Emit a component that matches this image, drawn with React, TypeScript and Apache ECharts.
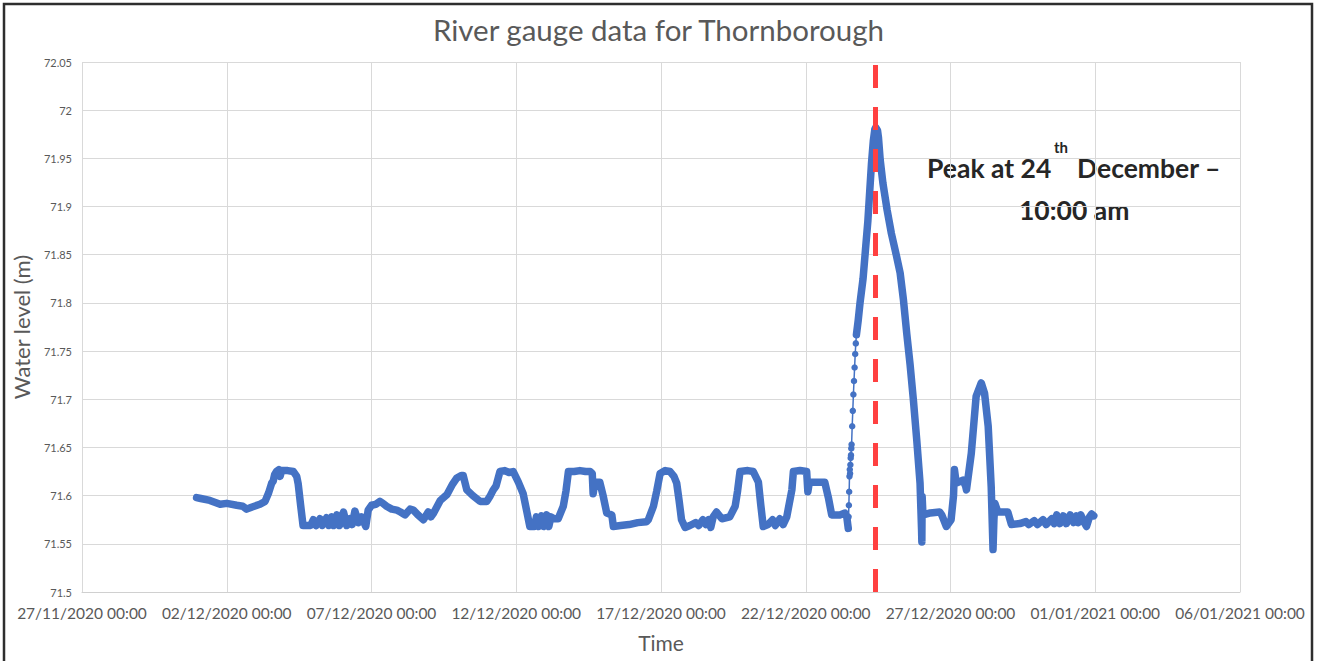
import React, { useEffect, useRef } from "react";
import * as echarts from "echarts";

const TITLE = "River gauge data for Thornborough";
const X_NAME = "Time";
const Y_NAME = "Water level (m)";
const AXIS_START = "2020-11-27 00:00";
const AXIS_END = "2021-01-06 00:00";
const TICK_DAYS = 5;
const PEAK_TIME = "2020-12-24 10:00";
const Y_MIN = 71.5;
const Y_MAX = 72.05;
const Y_STEP = 0.05;

// readings before the flood rise
const preTimes = [
  "2020-11-30 23:00", "2020-12-01 02:30", "2020-12-01 10:00", "2020-12-01 18:30", "2020-12-02 00:00",
  "2020-12-02 08:15", "2020-12-02 13:15", "2020-12-02 16:30", "2020-12-02 20:30", "2020-12-03 03:30",
  "2020-12-03 07:45", "2020-12-03 10:45", "2020-12-03 13:15", "2020-12-03 14:30", "2020-12-03 15:45",
  "2020-12-03 17:15", "2020-12-03 19:15", "2020-12-03 20:15", "2020-12-03 21:30", "2020-12-04 02:30",
  "2020-12-04 07:15", "2020-12-04 10:00", "2020-12-04 11:15", "2020-12-04 13:15", "2020-12-04 15:15",
  "2020-12-04 21:30", "2020-12-04 23:45", "2020-12-05 02:00", "2020-12-05 05:15", "2020-12-05 07:15",
  "2020-12-05 10:45", "2020-12-05 12:45", "2020-12-05 15:00", "2020-12-05 16:45", "2020-12-05 19:15",
  "2020-12-05 21:30", "2020-12-06 00:45", "2020-12-06 03:30", "2020-12-06 06:15", "2020-12-06 08:00",
  "2020-12-06 10:15", "2020-12-06 13:15", "2020-12-06 15:45", "2020-12-06 19:15", "2020-12-06 21:15",
  "2020-12-07 00:00", "2020-12-07 03:30", "2020-12-07 07:00", "2020-12-07 09:30", "2020-12-07 12:30",
  "2020-12-07 16:45", "2020-12-07 21:00", "2020-12-08 00:00", "2020-12-08 03:45", "2020-12-08 08:00",
  "2020-12-08 10:45", "2020-12-08 14:30", "2020-12-08 19:00", "2020-12-08 21:30", "2020-12-08 23:00",
  "2020-12-09 01:15", "2020-12-09 03:30", "2020-12-09 09:00", "2020-12-09 14:30", "2020-12-09 19:15",
  "2020-12-09 22:30", "2020-12-10 02:30", "2020-12-10 04:00", "2020-12-10 07:00", "2020-12-10 12:00",
  "2020-12-10 18:00", "2020-12-10 23:30", "2020-12-11 02:30", "2020-12-11 05:00", "2020-12-11 07:15",
  "2020-12-11 10:30", "2020-12-11 14:30", "2020-12-11 18:00", "2020-12-11 21:30", "2020-12-12 01:45",
  "2020-12-12 05:45", "2020-12-12 08:30", "2020-12-12 11:15", "2020-12-12 15:00", "2020-12-12 16:45",
  "2020-12-12 18:45", "2020-12-12 21:00", "2020-12-12 23:00", "2020-12-13 01:15", "2020-12-13 03:00",
  "2020-12-13 04:45", "2020-12-13 07:15", "2020-12-13 10:45", "2020-12-13 15:00", "2020-12-13 17:15",
  "2020-12-13 19:15", "2020-12-14 00:00", "2020-12-14 04:45", "2020-12-14 09:30", "2020-12-14 13:15",
  "2020-12-14 15:00", "2020-12-14 15:45", "2020-12-14 17:15", "2020-12-14 21:15", "2020-12-15 00:00",
  "2020-12-15 03:00", "2020-12-15 07:15", "2020-12-15 08:30", "2020-12-15 14:30", "2020-12-15 21:30",
  "2020-12-16 04:45", "2020-12-16 12:00", "2020-12-16 13:30", "2020-12-16 17:45", "2020-12-16 20:30",
  "2020-12-16 23:15", "2020-12-17 03:30", "2020-12-17 07:30", "2020-12-17 10:45", "2020-12-17 13:00",
  "2020-12-17 15:00", "2020-12-17 17:00", "2020-12-17 20:00", "2020-12-18 00:00", "2020-12-18 04:45",
  "2020-12-18 07:15", "2020-12-18 10:45", "2020-12-18 13:15", "2020-12-18 15:30", "2020-12-18 17:15",
  "2020-12-18 19:15", "2020-12-18 22:00", "2020-12-19 02:30", "2020-12-19 09:00", "2020-12-19 13:30",
  "2020-12-19 15:30", "2020-12-19 17:30", "2020-12-20 00:00", "2020-12-20 04:30", "2020-12-20 08:45",
  "2020-12-20 10:45", "2020-12-20 12:45", "2020-12-20 16:45", "2020-12-20 20:30", "2020-12-20 22:45",
  "2020-12-21 02:30", "2020-12-21 05:15", "2020-12-21 08:15", "2020-12-21 12:30", "2020-12-21 13:45",
  "2020-12-21 19:15", "2020-12-22 00:45", "2020-12-22 01:45", "2020-12-22 03:00", "2020-12-22 09:30",
  "2020-12-22 15:45", "2020-12-22 18:45", "2020-12-22 21:30", "2020-12-23 04:15", "2020-12-23 08:30",
  "2020-12-23 10:00", "2020-12-23 11:15",
];
const preLevels = [
  71.598, 71.597, 71.595, 71.591, 71.592,
  71.590, 71.589, 71.586, 71.588, 71.591,
  71.594, 71.603, 71.613, 71.615, 71.622,
  71.625, 71.627, 71.620, 71.626, 71.626,
  71.625, 71.620, 71.612, 71.590, 71.569,
  71.569, 71.575, 71.569, 71.576, 71.569,
  71.577, 71.569, 71.578, 71.569, 71.580,
  71.569, 71.583, 71.569, 71.576, 71.570,
  71.584, 71.572, 71.578, 71.568, 71.585,
  71.590, 71.591, 71.594, 71.592, 71.589,
  71.586, 71.585, 71.583, 71.580, 71.586,
  71.585, 71.580, 71.575, 71.580, 71.583,
  71.578, 71.582, 71.595, 71.601, 71.612,
  71.618, 71.621, 71.621, 71.606, 71.600,
  71.594, 71.594, 71.600, 71.606, 71.610,
  71.625, 71.626, 71.624, 71.625, 71.614,
  71.602, 71.585, 71.568, 71.568, 71.578,
  71.568, 71.579, 71.568, 71.580, 71.568,
  71.578, 71.576, 71.576, 71.589, 71.605,
  71.625, 71.625, 71.626, 71.625, 71.625,
  71.623, 71.602, 71.614, 71.614, 71.600,
  71.582, 71.580, 71.568, 71.569, 71.570,
  71.572, 71.573, 71.575, 71.589, 71.605,
  71.623, 71.626, 71.625, 71.620, 71.613,
  71.595, 71.575, 71.567, 71.569, 71.572,
  71.569, 71.575, 71.570, 71.575, 71.567,
  71.578, 71.583, 71.576, 71.578, 71.589,
  71.605, 71.625, 71.626, 71.625, 71.614,
  71.590, 71.568, 71.570, 71.575, 71.569,
  71.576, 71.570, 71.578, 71.606, 71.625,
  71.626, 71.625, 71.604, 71.614, 71.614,
  71.614, 71.598, 71.580, 71.580, 71.582,
  71.578, 71.566,
];

// sparse readings on the steep rise, 23 December
const riseTimes = [
  "2020-12-23 11:15", "2020-12-23 11:30", "2020-12-23 11:45", "2020-12-23 12:00", "2020-12-23 12:15",
  "2020-12-23 12:30", "2020-12-23 12:45", "2020-12-23 13:00", "2020-12-23 13:15", "2020-12-23 13:30",
  "2020-12-23 13:45", "2020-12-23 14:00", "2020-12-23 14:30", "2020-12-23 15:00", "2020-12-23 15:30",
  "2020-12-23 16:00", "2020-12-23 16:30", "2020-12-23 17:00", "2020-12-23 17:30", "2020-12-23 18:00",
];
const riseLevels = [
  71.566, 71.578, 71.590, 71.604, 71.620,
  71.627, 71.623, 71.632, 71.639, 71.642,
  71.649, 71.653, 71.672, 71.688, 71.705,
  71.719, 71.733, 71.747, 71.758, 71.767,
];

// readings from the late rise to the end of the year
const postTimes = [
  "2020-12-23 18:00", "2020-12-23 19:30", "2020-12-23 21:00", "2020-12-23 23:30", "2020-12-24 01:30",
  "2020-12-24 03:30", "2020-12-24 05:00", "2020-12-24 06:30", "2020-12-24 08:00", "2020-12-24 09:15",
  "2020-12-24 10:00", "2020-12-24 11:30", "2020-12-24 12:15", "2020-12-24 13:45", "2020-12-24 16:00",
  "2020-12-24 19:30", "2020-12-24 23:00", "2020-12-25 03:00", "2020-12-25 06:15", "2020-12-25 09:00",
  "2020-12-25 11:45", "2020-12-25 14:30", "2020-12-25 17:15", "2020-12-25 20:00", "2020-12-25 22:45",
  "2020-12-26 00:00", "2020-12-26 00:15", "2020-12-26 00:30", "2020-12-26 01:00", "2020-12-26 01:30",
  "2020-12-26 07:15", "2020-12-26 15:00", "2020-12-26 16:45", "2020-12-26 20:30", "2020-12-27 00:30",
  "2020-12-27 02:30", "2020-12-27 03:15", "2020-12-27 04:45", "2020-12-27 10:15", "2020-12-27 12:30",
  "2020-12-27 13:15", "2020-12-27 17:15", "2020-12-27 21:15", "2020-12-28 01:30", "2020-12-28 04:15",
  "2020-12-28 07:15", "2020-12-28 09:45", "2020-12-28 11:15", "2020-12-28 12:00", "2020-12-28 12:45",
  "2020-12-28 15:15", "2020-12-28 23:30", "2020-12-29 02:30", "2020-12-29 09:30", "2020-12-29 14:30",
  "2020-12-29 16:45", "2020-12-29 21:30", "2020-12-30 00:00", "2020-12-30 04:45", "2020-12-30 07:15",
  "2020-12-30 12:00", "2020-12-30 14:00", "2020-12-30 16:00", "2020-12-30 18:45", "2020-12-30 21:30",
  "2020-12-31 00:00", "2020-12-31 03:15", "2020-12-31 06:00", "2020-12-31 08:30", "2020-12-31 10:00",
  "2020-12-31 12:00", "2020-12-31 15:00", "2020-12-31 16:45", "2020-12-31 19:15", "2020-12-31 21:00",
  "2020-12-31 22:45",
];
const postLevels = [
  71.767, 71.782, 71.800, 71.825, 71.855,
  71.885, 71.915, 71.945, 71.968, 71.980,
  71.982, 71.979, 71.972, 71.948, 71.924,
  71.896, 71.872, 71.850, 71.831, 71.803,
  71.768, 71.736, 71.699, 71.658, 71.613,
  71.565, 71.552, 71.599, 71.585, 71.580,
  71.582, 71.583, 71.580, 71.568, 71.575,
  71.600, 71.627, 71.613, 71.616, 71.610,
  71.606, 71.644, 71.703, 71.717, 71.706,
  71.672, 71.609, 71.544, 71.575, 71.592,
  71.583, 71.583, 71.570, 71.571, 71.573,
  71.570, 71.574, 71.570, 71.575, 71.570,
  71.576, 71.571, 71.580, 71.571, 71.579,
  71.571, 71.580, 71.572, 71.579, 71.572,
  71.580, 71.572, 71.568, 71.578, 71.581,
  71.579,
];

const DAY = 86400000;
const parseT = (s: string) => {
  const [d, t] = s.split(" ");
  const [Y, M, D] = d.split("-").map(Number);
  const [h, m] = t.split(":").map(Number);
  return Date.UTC(Y, M - 1, D, h, m);
};
const BASE = parseT(AXIS_START);
const off = (s: string) => parseT(s) - BASE;
const pad = (n: number) => (n < 10 ? "0" + n : "" + n);
const fmt = (v: number) => {
  const dt = new Date(BASE + v);
  return `${pad(dt.getUTCDate())}/${pad(dt.getUTCMonth() + 1)}/${dt.getUTCFullYear()} ${pad(dt.getUTCHours())}:${pad(dt.getUTCMinutes())}`;
};
const pairs = (ts: string[], vs: number[]) => ts.map((t, i) => [off(t), vs[i]]);

const BLUE = "#4472C4";
const FONT = "Lato, 'Open Sans', sans-serif";

export default function App() {
  const ref = useRef<HTMLDivElement>(null);
  useEffect(() => {
    document.body.style.margin = "0";
    const chart = echarts.init(ref.current!, null, { renderer: "svg" });
    const band = {
      type: "line",
      showSymbol: false,
      symbol: "none",
      lineStyle: { color: BLUE, width: 7.5, cap: "round", join: "round" },
      itemStyle: { color: BLUE },
      silent: true,
      z: 3,
    };
    chart.setOption({
      animation: false,
      backgroundColor: "#ffffff",
      textStyle: { fontFamily: FONT },
      title: {
        text: TITLE,
        left: "center",
        top: 9,
        textStyle: { fontFamily: FONT, fontSize: 29.5, fontWeight: "normal", color: "#595959" },
      },
      grid: { left: 82, right: 77, top: 62, bottom: 69, containLabel: false },
      xAxis: {
        type: "value",
        min: 0,
        max: off(AXIS_END),
        interval: TICK_DAYS * DAY,
        name: X_NAME,
        nameLocation: "middle",
        nameGap: 40,
        nameTextStyle: { fontFamily: FONT, fontSize: 21, color: "#595959" },
        axisLine: { show: true, lineStyle: { color: "#d0d0d0", width: 1 } },
        axisTick: { show: false },
        axisLabel: { formatter: (v: number) => fmt(v), fontFamily: FONT, fontSize: 15.5, color: "#595959", margin: 13 },
        splitLine: { show: true, lineStyle: { color: "#d9d9d9", width: 1 } },
      },
      yAxis: {
        type: "value",
        min: Y_MIN,
        max: Y_MAX,
        interval: Y_STEP,
        name: Y_NAME,
        nameLocation: "middle",
        nameGap: 28,
        nameTextStyle: { fontFamily: FONT, fontSize: 22, color: "#595959" },
        axisLine: { show: false },
        axisTick: { show: false },
        axisLabel: {
          fontFamily: FONT,
          fontSize: 11,
          color: "#595959",
          margin: 10,
          formatter: (v: number) => String(Math.round(v * 100) / 100),
        },
        splitLine: { show: true, lineStyle: { color: "#d9d9d9", width: 1 } },
      },
      series: [
        { ...band, name: "pre", data: pairs(preTimes, preLevels) },
        {
          type: "line",
          name: "rise",
          data: pairs(riseTimes, riseLevels),
          showSymbol: true,
          symbol: "circle",
          symbolSize: 6.5,
          lineStyle: { color: BLUE, width: 1.5 },
          itemStyle: { color: BLUE, borderWidth: 0 },
          silent: true,
          z: 3,
        },
        {
          ...band,
          name: "post",
          data: pairs(postTimes, postLevels),
          markLine: {
            silent: true,
            symbol: ["none", "none"],
            label: { show: false },
            lineStyle: { color: "#FF4040", width: 5, type: [23, 19] },
            data: [{ xAxis: off(PEAK_TIME) }],
            z: 5,
          },
        },
      ],
      graphic: [
        {
          type: "rect",
          shape: { x: 4, y: 4, width: 1308, height: 680 },
          style: { fill: "none", stroke: "#2e2e2e", lineWidth: 2.5 },
          silent: true,
        },
        {
          type: "text",
          left: 927,
          top: 154,
          style: { text: "Peak at 24", font: `bold 26.5px ${FONT}`, fill: "#262626" },
        },
        {
          type: "text",
          left: 1054,
          top: 139,
          style: { text: "th", font: `bold 15px ${FONT}`, fill: "#262626" },
        },
        {
          type: "text",
          left: 1077,
          top: 154,
          style: { text: "December –", font: `bold 26.5px ${FONT}`, fill: "#262626" },
        },
        {
          type: "text",
          left: 1019,
          top: 196,
          style: { text: "10:00 am", font: `bold 26.5px ${FONT}`, fill: "#262626" },
        },
      ],
    });
    return () => chart.dispose();
  }, []);
  return <div ref={ref} style={{ width: 1317, height: 661 }} />;
}
